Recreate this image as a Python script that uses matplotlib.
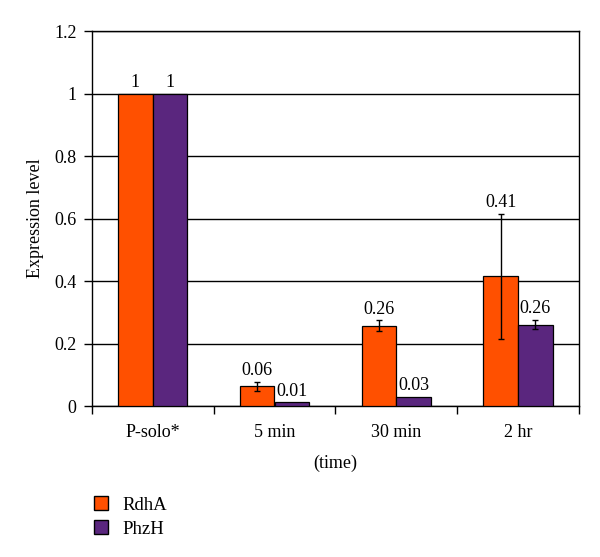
import numpy as np
import matplotlib
matplotlib.use('Agg')
import matplotlib.pyplot as plt
from matplotlib.patches import Patch

# ---------------------------------------------------------------------------
# Data
# ---------------------------------------------------------------------------
CATEGORIES = ['P-solo*', '5 min', '30 min', '2 hr']
RDHA       = [1.0, 0.063, 0.257, 0.415]
RDHA_ERR   = [0.0, 0.015, 0.018, 0.200]
PHZH       = [1.0, 0.012, 0.029, 0.261]
PHZH_ERR   = [0.0, 0.0, 0.0, 0.015]
RDHA_LBL   = ['1', '0.06', '0.26', '0.41']
PHZH_LBL   = ['1', '0.01', '0.03', '0.26']
Y_TICKS    = [0, 0.2, 0.4, 0.6, 0.8, 1, 1.2]

ORANGE = '#FF5000'
PURPLE = '#5A267E'
SERIF  = 'Liberation Serif'
FS     = 13

plt.rcParams['font.family'] = SERIF

fig = plt.figure(figsize=(6.0, 5.57), dpi=100)
ax = fig.add_axes([0.153, 0.271, 0.812, 0.673])

x = np.arange(len(CATEGORIES))
w = 0.285

ax.bar(x - w / 2, RDHA, width=w, color=ORANGE, edgecolor='black',
       linewidth=0.9, zorder=3)
ax.bar(x + w / 2, PHZH, width=w, color=PURPLE, edgecolor='black',
       linewidth=0.9, zorder=3)

# error bars + value labels
for xs, vals, errs, lbls in [(x - w / 2, RDHA, RDHA_ERR, RDHA_LBL),
                             (x + w / 2, PHZH, PHZH_ERR, PHZH_LBL)]:
    for xi, v, e, t in zip(xs, vals, errs, lbls):
        if e > 0:
            ax.errorbar(xi, v, yerr=e, fmt='none', ecolor='black',
                        elinewidth=1.0, capsize=2, capthick=1.0, zorder=4)
        ax.text(xi, v + e + 0.008, t, ha='center', va='bottom', fontsize=FS)

ax.set_xlim(-0.5, len(CATEGORIES) - 0.5)
ax.set_ylim(0, 1.2)
ax.set_yticks(Y_TICKS)
ax.set_yticklabels([f'{v:g}' for v in Y_TICKS], fontsize=FS)
ax.yaxis.grid(True, color='black', linewidth=1.0, zorder=0)
ax.set_axisbelow(True)
ax.tick_params(axis='y', direction='out', length=6, width=1.0, pad=5)

ax.set_xticks(x)
ax.set_xticklabels(CATEGORIES, fontsize=FS)
ax.set_xticks(np.arange(len(CATEGORIES) + 1) - 0.5, minor=True)
ax.tick_params(axis='x', which='major', length=0, pad=13)
ax.tick_params(axis='x', which='minor', direction='out', length=6, width=1.0)

for s in ax.spines.values():
    s.set_linewidth(1.0)
    s.set_color('black')

ax.set_ylabel('Expression level', fontsize=FS, labelpad=7)
ax.set_xlabel('(time)', fontsize=FS, labelpad=10)

handles = [Patch(facecolor=ORANGE, edgecolor='black', label='RdhA'),
           Patch(facecolor=PURPLE, edgecolor='black', label='PhzH')]
fig.legend(handles=handles, loc='upper left', bbox_to_anchor=(0.128, 0.14),
           frameon=False, fontsize=13.5, handlelength=0.75, handleheight=0.8,
           handletextpad=0.8, labelspacing=0.35)

fig.savefig('out.png', dpi=100)
